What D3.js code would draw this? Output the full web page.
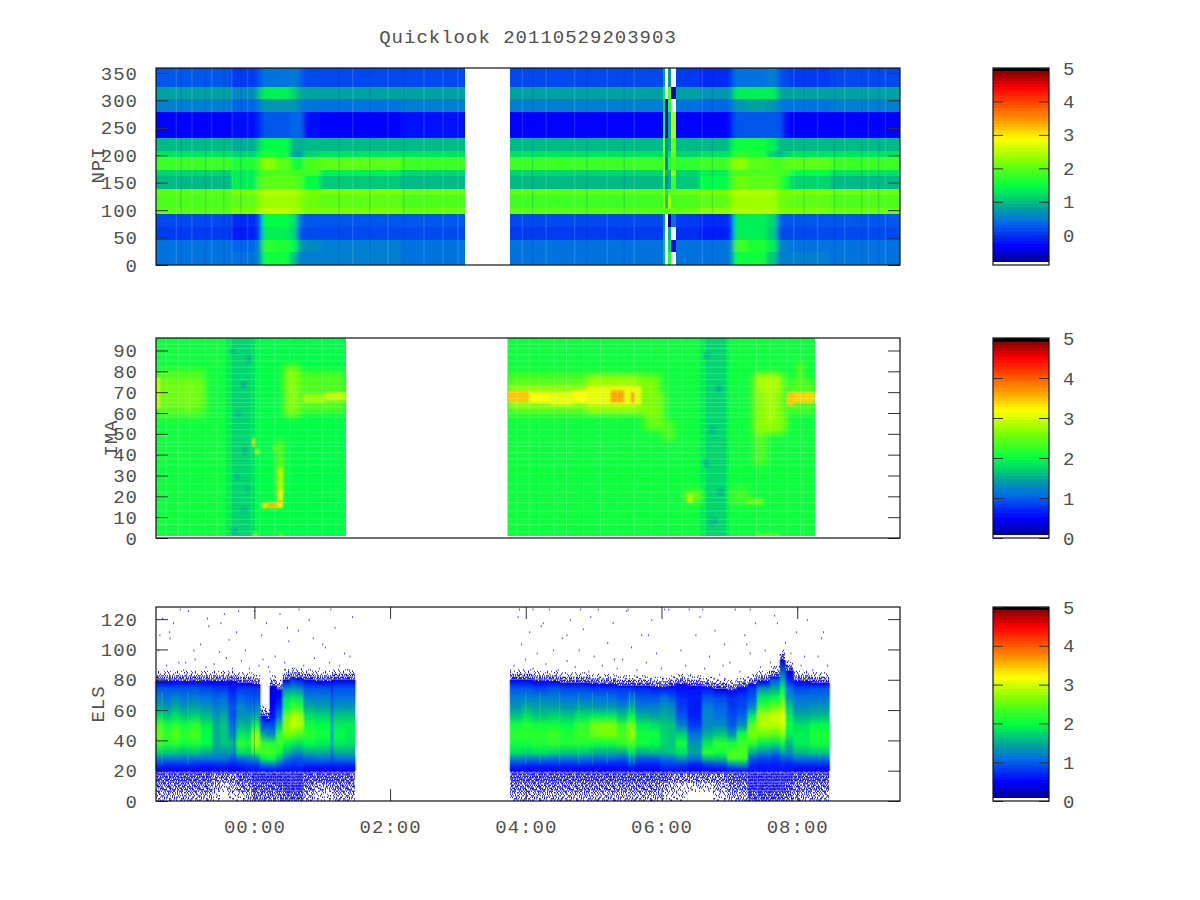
<!DOCTYPE html>
<html>
<head>
<meta charset="utf-8">
<title>Quicklook 20110529203903</title>
<script src="https://cdnjs.cloudflare.com/ajax/libs/d3/7.8.5/d3.min.js"></script>
<style>
  html, body { margin: 0; padding: 0; background: #fff; }
  svg { display: block; }
  text { font-family: "Liberation Mono", monospace; font-size: 19px; letter-spacing: 1px; fill: #505050; }
  .axis text { font-family: "Liberation Mono", monospace; font-size: 19px; letter-spacing: 1px; fill: #505050; }
  .axis path { display: none; }
  .axis line { stroke: #333; }
</style>
</head>
<body>
<div id="chart"></div>
<script>
// all values below (hours from 00:00, log10 counts)
const title = 'Quicklook 20110529203903';
const timeTicks = [0, 2, 4, 6, 8];
const timeLabels = ['00:00', '02:00', '04:00', '06:00', '08:00'];
const npiTicks = [0, 50, 100, 150, 200, 250, 300, 350];
const imaTicks = [0, 10, 20, 30, 40, 50, 60, 70, 80, 90];
const elsTicks = [0, 20, 40, 60, 80, 100, 120];
const barTicks = [0, 1, 2, 3, 4, 5];

// colour bar
const cmapStops = [0.016, 0.1, 0.22, 0.30, 0.40, 0.53, 0.64, 0.75, 0.90, 0.984];
const cmapColors = ['#000096', '#0000ff', '#006ee6', '#00aa96', '#00ff46', '#80ff00', '#ffff00', '#ff8c00', '#ff0000', '#8b0000'];

// NPI: column edges (hours), band edges (deg), one row of values per band
const npiEdges = [-1.45, -0.33, 0.04, 0.11, 0.30, 0.52, 0.63, 0.72, 0.97, 2.15, 3.10, 3.77, 5.09, 6.02, 6.05, 6.10, 6.14, 6.21, 6.57, 7.01, 7.07, 7.26, 7.55, 7.70, 7.78, 7.89, 8.48, 9.52];
const npiBands = [359, 325, 302, 278, 232, 208, 197, 174, 162, 139, 127, 104, 93, 70, 46, 23, 0];
const n = null;
const npiValues = [
  [.22, .04, .25, .42, .48, .58, .38, .17, .14, .2, n, .2, .18, .8, n, .7, n, .12, 0, .17, .4, .44, .52, .3, .17, .07, .14],
  [.82, .62, 1.05, 1.38, 1.38, 1.22, .9, .8, .8, .82, n, .82, .85, 1.4, n, 2, -.7, .78, .68, .95, 1.32, 1.38, 1.32, .9, .82, .78, .82],
  [.5, .34, .58, .76, .76, .74, .58, .45, .45, .5, n, .5, .5, 1.2, -.7, 1.6, n, .44, .36, .55, .76, .78, .74, .54, .48, .44, .5],
  [-.27, -.2, 0, .22, .25, .32, .38, -.2, -.27, -.22, n, -.27, -.27, 1.6, -.6, .9, 2.5, -.3, -.3, 0, .22, .25, .3, .3, -.2, -.27, -.27],
  [.98, .92, 1.28, 1.48, 1.48, .98, .92, .96, .98, .98, n, .98, .98, 2.2, .7, .9, 2.1, .96, 1, 1.32, 1.52, 1.52, 1.32, 1, .96, 1, .98],
  [1.3, 1.15, 1.48, 1.62, 1.58, .8, .75, 1.2, 1.3, 1.3, n, 1.3, 1.26, 2.2, .7, 1.3, 2.1, 1.2, 1.3, 1.58, 1.72, 1.62, 1.2, .85, 1.2, 1.3, 1.3],
  [1.82, 1.6, 1.95, 2.3, 2.05, 1.65, 1.5, 1.95, 2, 1.85, n, 1.82, 1.82, 2.4, .5, 1.6, 1.9, 1.75, 1.85, 2.15, 2.3, 2.05, 1.9, 1.85, 2, 2, 1.85],
  [1.2, 1.35, 1.75, 1.95, 1.9, 1.8, 1.85, 1.85, 1.4, 1.22, n, 1.2, 1.2, 2.6, .9, 1, 2.4, 1.22, 1.35, 1.85, 1.95, 1.9, 1.9, 1.85, 1.8, 1.48, 1.26],
  [1.02, 1.38, 1.95, 2.05, 2.05, 2, 1.95, 1.42, 1.1, 1.02, n, 1, 1, 1.8, .6, .9, 1.8, 1.1, 1.42, 1.95, 2.1, 2.05, 2, 1.85, 1.52, 1.2, 1.02],
  [2.05, 2.15, 2.4, 2.5, 2.5, 2.45, 2.35, 2.2, 2.15, 2.1, n, 2, 2, 2.5, 1.4, 2, 2, 2.1, 2.2, 2.4, 2.5, 2.5, 2.45, 2.2, 2.2, 2.15, 2.1],
  [1.88, 1.98, 2.25, 2.38, 2.42, 2.38, 2.3, 2.1, 2.02, 1.92, n, 1.85, 1.85, 2.5, 1.2, 2.5, 1.8, 1.92, 2.05, 2.32, 2.42, 2.42, 2.38, 2.08, 2.12, 2.05, 1.92],
  [2.05, 2.2, 2.45, 2.52, 2.52, 2.48, 2.4, 2.22, 2.18, 2.1, n, 2, 2.05, 2.1, 1.8, 2.1, 2.1, 2.12, 2.25, 2.45, 2.5, 2.5, 2.45, 2.22, 2.22, 2.18, 2.1],
  [.17, 0, .22, 1.42, 1.42, 1.3, .48, .25, .22, .22, n, .17, .14, .7, n, -.7, .4, .04, 0, .22, 1.38, 1.38, 1.2, .32, .22, .22, .22],
  [.07, -.1, .14, 1.38, 1.38, 1.2, .28, .14, .14, .14, n, .1, .06, .9, -.8, .9, n, -.04, -.08, .14, 1.34, 1.34, 1.1, .2, .14, .14, .14],
  [.48, .38, .72, 1.7, 1.6, 1.45, .82, .6, .52, .48, n, .46, .48, 1, -.8, 1.2, -.4, .4, .44, .72, 1.8, 1.6, 1.36, .64, .52, .48, .48],
  [.46, .4, .72, 1.52, 1.52, 1.05, .56, .56, .5, .46, n, .42, .46, 1, n, 1.6, n, .4, .44, .72, 1.58, 1.58, 1.1, .5, .5, .5, .46]
];
const npiSoftColumns = [1, 2, 3, 4, 5, 6, 7, 8, 18, 19, 20, 21, 22, 23, 24, 25];
const npiLightStreaks = [-1.15, -0.92, -0.63, -0.33, -0.1, 1.45, 1.97, 2.5, 2.78, 3.0, 3.95, 4.3, 4.72, 5.2, 5.6, 6.6, 7.95, 8.3, 8.7, 9.05, 9.3];
const npiDarkStreaks = [-1.08, -0.72, -0.45, -0.2, 1.25, 1.7, 2.2, 4.1, 4.9, 5.45, 6.75, 8.1, 8.55, 8.95, 9.2];

// IMA: one value per column across all energies, then local patches [t0, t1, e0, e1, value]
const imaEdges = [-1.45, -0.42, -0.33, -0.07, 0.01, 1.35, 3.73, 6.57, 6.65, 6.95, 7.0, 8.26];
const imaBase = [2.05, 1.88, 1.72, 1.82, 2.0, n, 2.1, 1.9, 1.72, 1.88, 2.1];
const imaPatches = [
  [-1.45, -0.72, 58, 81, 2.35], [-1.45, -0.72, 63, 76, 2.5], [-1.45, -1.39, 62, 77, 2.95], [-1.0, -0.95, 60, 75, 2.7],
  [0.42, 1.35, 60, 80, 2.35], [0.42, 0.67, 58, 83, 2.5], [0.52, 0.60, 62, 80, 2.75],
  [0.72, 1.05, 65, 69, 2.8], [1.05, 1.35, 66, 70, 2.95],
  [0.34, 0.42, 22, 47, 2.6], [0.34, 0.42, 22, 34, 2.85], [0.34, 0.42, 16, 23, 3.2], [0.36, 0.40, 15, 18, 4.0],
  [0.11, 0.42, 14.5, 17, 3.25], [0.18, 0.34, 15, 16.5, 3.6],
  [-0.03, 0.01, 44, 48, 3.4], [0.01, 0.07, 40.5, 42.5, 2.9], [0.27, 0.33, 42, 44, 2.6],
  [-0.03, 0.06, 1, 2, 2.8], [0.36, 0.42, 1, 2, 2.8],

  [3.73, 6.0, 59, 79, 2.4], [5.75, 6.05, 52, 70, 2.5], [6.0, 6.2, 47, 56, 2.4],
  [3.73, 5.6, 63, 73, 2.8], [3.73, 4.05, 65.5, 70.5, 3.45], [4.05, 4.35, 65, 70, 3.2], [4.35, 4.7, 64, 70, 3.1], [4.7, 5.0, 65, 71, 3.15],
  [4.9, 5.7, 60, 78, 2.8], [4.9, 5.7, 64, 73, 3.05], [5.25, 5.45, 65, 71, 3.6], [5.55, 5.6, 65, 70, 3.7],
  [5.65, 5.95, 59, 77, 2.6],
  [6.35, 6.6, 17, 23, 2.5], [6.38, 6.45, 17, 21, 2.9], [7.25, 7.5, 16, 19, 2.55], [7.0, 7.3, 16, 24, 2.3],
  [7.35, 7.8, 50, 79, 2.7], [7.4, 7.75, 71, 79, 2.84], [7.55, 7.65, 56, 75, 2.84], [7.35, 7.55, 35, 50, 2.4], [7.7, 7.85, 52, 60, 2.6],
  [7.85, 8.26, 60, 76, 2.35], [7.85, 8.26, 65, 70, 3.4], [7.85, 7.95, 63.5, 70, 3.5], [8.0, 8.08, 74, 85, 2.5], [7.4, 7.75, 1, 2, 2.6]
];
const imaMottle = [
  [-0.35, -0.28, 88, 91, 1.6], [-0.2, -0.12, 72, 75, 1.55], [-0.12, -0.05, 84, 88, 1.62], [-0.28, -0.2, 58, 61, 1.6], [-0.18, -0.1, 40, 44, 1.6],
  [-0.3, -0.22, 28, 31, 1.6], [-0.2, -0.1, 12, 15, 1.58], [-0.35, -0.25, 2, 5, 1.6], [-0.12, -0.06, 22, 25, 1.62],
  [6.62, 6.72, 86, 89, 1.6], [6.8, 6.88, 70, 73, 1.55], [6.7, 6.8, 50, 54, 1.6], [6.62, 6.7, 34, 38, 1.6], [6.82, 6.92, 20, 24, 1.6], [6.7, 6.82, 6, 10, 1.58]
];
const imaGridE = [3, 6.5, 9, 13, 17, 19.5, 22, 26, 31, 35, 38, 41, 44, 46, 49, 52, 55, 58, 60, 63, 65, 67, 70, 73, 76, 79, 82, 85, 88, 91, 93];
const imaGridT = [-1.3, -1.12, -0.95, -0.72, -0.55, 0.08, 0.3, 0.52, 0.78, 1.0, 1.2, 3.87, 4.05, 4.2, 4.42, 4.6, 4.85, 5.1, 5.35, 5.6, 5.85, 6.1, 6.3, 7.15, 7.4, 7.6, 7.85, 8.05];

// ELS: column start and end hours, energy levels, one profile per column
const elsStarts = [-1.45, -1.35, -1.22, -1.10, -0.95, -0.80, -0.62, -0.50, -0.39, -0.26, -0.14, -0.04, 0.08, 0.17, 0.23, 0.32, 0.42, 0.53, 0.61, 0.72, 0.89, 1.13, 1.16, 1.33,
  3.77, 3.95, 4.09, 4.33, 4.50, 4.72, 4.95, 5.15, 5.34, 5.50, 5.61, 5.83, 5.98, 6.10, 6.21, 6.38, 6.60, 6.76, 6.97, 7.11, 7.27, 7.41, 7.60, 7.75, 7.82, 7.94, 8.19];
const elsEnds = [-1.35, -1.22, -1.10, -0.95, -0.80, -0.62, -0.50, -0.39, -0.26, -0.14, -0.04, 0.08, 0.17, 0.23, 0.32, 0.42, 0.53, 0.61, 0.72, 0.89, 1.13, 1.16, 1.33, 1.48,
  3.95, 4.09, 4.33, 4.50, 4.72, 4.95, 5.15, 5.34, 5.50, 5.61, 5.83, 5.98, 6.10, 6.21, 6.38, 6.60, 6.76, 6.97, 7.11, 7.27, 7.41, 7.60, 7.75, 7.82, 7.94, 8.19, 8.47];
const elsLevels = [20, 24, 28, 32, 38, 44, 50, 56, 62, 68, 74, 80];
const elsProfiles = [
  [.5, .8, 1.2, 1.75, 2.3, 2.5, 2.35, 1.8, 1.45, 1.2, .95, .55],
  [.5, .75, 1.15, 1.65, 2.15, 2.25, 2.1, 1.7, 1.4, 1.15, .95, .55],
  [.5, .75, 1.2, 1.7, 2.25, 2.45, 2.25, 1.8, 1.5, 1.25, .95, .55],
  [.5, .75, 1.1, 1.6, 2.1, 2.2, 2.05, 1.7, 1.4, 1.15, .95, .55],
  [.5, .75, 1.15, 1.65, 2.15, 2.35, 2.2, 1.75, 1.45, 1.2, .95, .55],
  [.5, .7, 1.1, 1.55, 2, 2, 1.9, 1.6, 1.35, 1.15, .9, .55],
  [.5, .75, 1.1, 1.35, 1.5, 1.55, 1.5, 1.4, 1.2, 1.05, .85, .5],
  [.5, .75, 1.1, 1.4, 1.65, 1.7, 1.65, 1.5, 1.3, 1.1, .85, .5],
  [.45, .7, 1, 1.35, 1.6, 1.3, 1.1, 1, .95, .85, .7, .45],
  [.5, .75, 1.15, 1.8, 2.2, 1.9, 1.6, 1.4, 1.25, 1.05, .8, .45],
  [.55, .8, 1.2, 1.75, 2.1, 1.85, 1.55, 1.35, 1.15, 1, .8, .45],
  [.55, .85, 1.35, 2.2, 2.75, 2.7, 2.1, 1.5, 1.2, 1, .8, .45],
  [.55, 1.1, 1.9, 2.3, 2.2, 1.5, .9, .6, .4, .4, .4, .4],
  [.55, 1.15, 2, 2.35, 2.2, 1.3, 1, .5, .4, .4, .4, .4],
  [.55, 1.2, 2, 2.3, 2.15, 1.25, .9, .55, .5, .45, .4, .4],
  [.6, .95, 1.6, 2.05, 2.3, 2.2, 1.7, 1.1, .8, .6, .4, .4],
  [.6, .8, 1.1, 1.6, 2, 2.6, 2.7, 2.5, 2, 1.8, 1.3, .7],
  [.55, .75, 1, 1.4, 1.9, 2.5, 2.95, 2.9, 2.3, 1.9, 1.4, .8],
  [.6, .8, 1, 1.3, 1.8, 2.4, 2.85, 2.8, 2.2, 1.8, 1.3, .7],
  [.5, .75, 1.05, 1.5, 2, 2.2, 2.1, 1.85, 1.5, 1.2, .95, .6],
  [.5, .75, 1.1, 1.55, 1.95, 2.05, 2, 1.75, 1.45, 1.2, .95, .55],
  [.5, .6, .8, .9, 1, 1, 1, .95, .9, .8, .7, .5],
  [.5, .75, 1.1, 1.55, 1.9, 2, 1.95, 1.7, 1.4, 1.15, .95, .55],
  [.5, .75, 1.1, 1.5, 1.85, 1.95, 1.9, 1.65, 1.4, 1.15, .95, .55],

  [.5, .8, 1.25, 1.8, 2.1, 2.2, 2.05, 1.65, 1.4, 1.2, .95, .55],
  [.5, .75, 1.2, 1.75, 2.05, 2.25, 2.15, 1.85, 1.5, 1.2, .95, .5],
  [.5, .75, 1.2, 1.8, 2.15, 2.2, 2.05, 1.7, 1.45, 1.2, .9, .5],
  [.5, .75, 1.15, 1.75, 2.2, 2.3, 2.1, 1.75, 1.45, 1.2, .95, .5],
  [.5, .75, 1.1, 1.7, 2.15, 2.15, 2, 1.7, 1.4, 1.15, .9, .5],
  [.5, .75, 1.15, 1.65, 2.15, 2.3, 2.2, 1.85, 1.45, 1.15, .9, .45],
  [.5, .7, 1.05, 1.5, 2.1, 2.55, 2.6, 1.9, 1.4, 1.1, .85, .45],
  [.5, .7, 1.05, 1.5, 2.1, 2.6, 2.65, 1.9, 1.4, 1.1, .85, .45],
  [.5, .7, 1, 1.5, 2.2, 2.35, 2.2, 1.7, 1.3, 1, .8, .45],
  [.5, .85, 1.25, 1.8, 2.4, 2.75, 2.6, 2, 1.5, 1.1, .8, .45],
  [.5, .7, 1, 1.55, 2.05, 2.1, 1.95, 1.5, 1.2, .95, .75, .4],
  [.5, .7, 1, 1.6, 2, 2.05, 1.85, 1.45, 1.2, .95, .7, .4],
  [.55, .8, 1.15, 1.6, 1.75, 1.75, 1.7, 1.55, 1.35, 1.1, .7, .4],
  [.55, .8, 1.1, 1.65, 1.7, 1.7, 1.65, 1.45, 1.3, 1, .7, .4],
  [.55, .85, 1.4, 1.8, 2.05, 1.75, 1.2, 1, .85, .75, .6, .4],
  [.5, .7, 1.1, 1.45, 1.4, 1.1, .8, .7, .7, .65, .55, .4],
  [.5, .85, 1.6, 2.2, 1.9, 1.5, 1.3, 1.25, 1.2, 1, .7, .4],
  [.5, .9, 1.6, 2.1, 2.25, 1.7, 1.3, 1.15, 1.05, .9, .6, .4],
  [.55, 1.3, 2.3, 2.35, 2.05, 1.35, 1, .9, .85, .75, .55, .4],
  [.55, 1.35, 2.3, 2.35, 2.3, 2.1, 1.4, 1.05, .9, .8, .6, .4],
  [.55, .75, 1, 1.5, 2.25, 2.6, 2.45, 1.95, 1.3, 1, .8, .5],
  [.55, .7, .9, 1.25, 1.9, 2.5, 2.85, 2.85, 2.3, 1.9, 1.35, .75],
  [.6, .7, .85, 1.15, 1.8, 2.45, 2.85, 3, 2.5, 2, 1.5, 1],
  [.6, .75, 1, 1.55, 2.1, 2.7, 3, 3.1, 2.8, 2.4, 2, 1.5],
  [.55, .7, .95, 1.3, 1.6, 1.9, 2, 1.9, 1.7, 1.4, 1.1, .7],
  [.5, .75, 1.1, 1.6, 1.9, 1.95, 1.85, 1.5, 1.3, 1.15, .9, .55],
  [.5, .75, 1.15, 1.65, 2.05, 2.15, 2, 1.6, 1.35, 1.15, .95, .55]
];
// top energy of the solid part of each column
const elsTop = [79, 79, 79, 79, 79, 79, 79, 79, 79, 78, 78, 77, 56, 54, 76, 73, 80, 81, 81, 80, 79, 80, 80, 80,
  80, 80, 79, 79, 78, 78, 77, 77, 76, 76, 76, 75, 75, 76, 77, 76, 75, 74, 73, 75, 77, 79, 82, 93, 86, 79, 78];
// speckle density in the 0-6, 6-12, 12-18 strips of each column
const elsLow = [[2, 3, 4], [2, 3, 4], [2, 3, 4], [2, 3, 4], [2, 3, 4], [2, 3, 4], [1, 2, 3], [0, 1, 3], [1, 2, 3], [1, 3, 4], [2, 3, 4], [3, 4, 5], [3, 4, 5], [3, 4, 5], [3, 4, 5], [3, 4, 5], [4, 5, 5], [4, 5, 5], [4, 5, 5], [2, 3, 4], [1, 2, 4], [1, 2, 4], [2, 3, 4], [2, 3, 4],
  [2, 3, 4], [2, 3, 4], [2, 3, 4], [2, 3, 4], [2, 3, 4], [2, 3, 4], [2, 3, 4], [2, 3, 4], [2, 3, 4], [2, 3, 4], [2, 3, 4], [2, 3, 4], [1, 2, 4], [1, 2, 3], [1, 1, 3], [0, 1, 3], [0, 1, 3], [1, 2, 3], [2, 3, 4], [2, 3, 4], [4, 5, 5], [4, 5, 5], [4, 5, 5], [4, 5, 5], [3, 4, 5], [2, 3, 4], [2, 3, 4]];
const elsStrayT = [-1.42, -1.36, -1.3, -1.26, -1.2, -1.12, -1.05, -0.98, -0.88, -0.8, -0.72, -0.68, -0.6, -0.52, -0.45, -0.38, -0.33, -0.27, -0.2, -0.14, -0.08, 0, 0.06, 0.1, 0.17, 0.22, 0.3, 0.37, 0.44, 0.5, 0.57, 0.64, 0.72, 0.8, 0.88, 0.95, 1.04, 1.1, 1.18, 1.25, 1.32, 1.39, 1.44, -1.25, -1.02, -0.7, -0.42, -0.24, 0.12, 0.48, 0.86, 1.12, 1.4, -1.4, -1.1, -0.9, -0.5, 0.2, 0.65, 1.0,
  3.82, 3.88, 3.93, 3.99, 4.05, 4.1, 4.16, 4.22, 4.29, 4.34, 4.4, 4.47, 4.53, 4.6, 4.65, 4.72, 4.78, 4.84, 4.92, 5, 5.06, 5.12, 5.2, 5.28, 5.34, 5.42, 5.48, 5.55, 5.63, 5.7, 5.77, 5.85, 5.92, 5.99, 6.04, 6.28, 6.35, 6.42, 6.5, 6.56, 6.63, 6.7, 6.78, 6.85, 6.92, 7, 7.08, 7.15, 7.22, 7.3, 7.38, 7.45, 7.52, 7.6, 7.66, 7.74, 7.82, 7.9, 7.98, 8.05, 8.14, 8.22, 8.3, 8.38, 8.44, 3.9, 4.25, 4.6, 4.95, 5.3, 5.8, 6.4, 6.9, 7.25, 7.7, 8.1, 8.35, 4.1, 4.8, 5.5, 6.1, 6.6, 7.3, 8.0];
const elsStrayE = [100, 121, 90, 112, 118, 92, 87, 126, 94, 104, 89, 116, 91, 99, 124, 107, 88, 112, 93, 100, 88, 126, 90, 110, 118, 86, 96, 124, 92, 106, 87, 113, 90, 120, 95, 88, 102, 92, 115, 90, 98, 87, 122, 108, 92, 121, 95, 126, 94, 115, 108, 127, 96, 110, 127, 100, 118, 89, 127, 104,
  90, 122, 104, 94, 112, 88, 98, 116, 91, 127, 100, 87, 108, 93, 120, 89, 100, 114, 86, 96, 127, 90, 105, 118, 88, 94, 126, 102, 87, 110, 92, 120, 98, 88, 127, 100, 90, 84, 110, 122, 88, 96, 113, 84, 104, 92, 127, 86, 110, 98, 118, 89, 100, 92, 123, 97, 105, 98, 112, 90, 120, 87, 96, 112, 90, 127, 118, 110, 122, 94, 110, 127, 90, 104, 118, 96, 108, 127, 127, 127, 127, 127, 127, 127, 127];
const elsStreaks = [-1.36, -0.98, 4.0, 4.21, 4.5, 4.78, 4.98, 5.2, 5.53, 5.6];
const elsDarkStreaks = [1.14, 0.0, -0.3];
// Texture only: the dense speckle in the low strips and the fringe is not read point by point.
// a pixel is on when its digit is below the strip's threshold.
const speckleTile = [
  '3815926047139582604716392850417362951',
  '7042681935720469183520746193628059374',
  '1596304872658130947265081739452608193',
  '8263749015493827160394572816039147526',
  '0471852396016745293861047925386471028',
  '5928013674382910567481236059174830962',
  '3160497285964073812695730481962507134',
  '9745126830251689407312958674013296785',
  '2086371954708342961508246139785041627',
  '6531840729136057248973016582494738106',
  '4902765183849271506316498720351692048',
  '1378296405062938174650723841960517392',
  '7614058392517406839221586093472068151',
  '2859403167384152960784130675928341706',
  '0347916528790613425967482013605792483',
  '9162570834126489037155039426817450269'
];
const speckleLevels = [0, 2, 4, 6, 8, 10];

// layout
const W = 1200, H = 900;
const panelX = [156, 900], barX = [993, 1049];
const panelY = { npi: [265, 68], ima: [538, 338], els: [801, 607] };

const x = d3.scaleLinear().domain([-1.45, 9.515]).range(panelX);
const yNpi = d3.scaleLinear().domain([0, 359]).range(panelY.npi);
const yIma = d3.scaleLinear().domain([0, 96]).range(panelY.ima);
const yEls = d3.scaleLinear().domain([0, 128]).range(panelY.els);

const cmap = d3.scaleLinear().domain(cmapStops).range(cmapColors).clamp(true);
const palette = d3.range(64).map(i => i == 0 ? '#fff' : i == 63 ? '#000' : cmap((i + 0.5) / 64));
function colorFor(domain) {
  return d3.scaleQuantize().domain(domain).range(palette);
}
const colNpi = colorFor([-0.89, 5]);
const colIma = colorFor([0, 5]);
const colEls = colorFor([0, 5]);

const svg = d3.select('#chart').append('svg').attr('width', W).attr('height', H);
const defs = svg.append('defs');

svg.append('text').attr('x', 528).attr('y', 43).attr('text-anchor', 'middle').text(title);

// speckle patterns
const tileCells = [];
speckleTile.forEach((row, r) => row.split('').forEach((c, k) => tileCells.push({ r, k, d: +c })));
speckleLevels.forEach((thr, level) => {
  const p = defs.append('pattern').attr('id', 'speck' + level)
    .attr('patternUnits', 'userSpaceOnUse')
    .attr('width', speckleTile[0].length).attr('height', speckleTile.length * 1.5);
  p.selectAll('rect').data(tileCells.filter(c => c.d < thr)).join('rect')
    .attr('x', c => c.k).attr('y', c => c.r * 1.5)
    .attr('width', 1).attr('height', 1.5)
    .attr('fill', c => c.d % 3 == 0 ? '#4a4af0' : '#1414e6');
});

// --- NPI ---
function npiCells(g, keep) {
  npiValues.forEach((row, b) => {
    g.append('g').selectAll('rect').data(row.map((v, c) => ({ v, c })).filter(d => d.v !== null && keep(d.c))).join('rect')
      .attr('x', d => x(npiEdges[d.c]))
      .attr('y', yNpi(npiBands[b]))
      .attr('width', d => x(npiEdges[d.c + 1]) - x(npiEdges[d.c]))
      .attr('height', yNpi(npiBands[b + 1]) - yNpi(npiBands[b]))
      .attr('fill', d => colNpi(d.v))
      .attr('shape-rendering', 'crispEdges');
  });
}
defs.append('filter').attr('id', 'smearNpi').attr('x', '-10%').attr('width', '120%')
  .append('feGaussianBlur').attr('stdDeviation', '2 0');
defs.append('filter').attr('id', 'smearEls').attr('x', '-5%').attr('width', '110%')
  .append('feGaussianBlur').attr('stdDeviation', '1.3 0');
const gNpi = svg.append('g');
npiCells(gNpi, () => true);
const softA = gNpi.append('g').attr('filter', 'url(#smearNpi)');
npiCells(softA, c => npiSoftColumns.includes(c) && c < 10);
const softB = gNpi.append('g').attr('filter', 'url(#smearNpi)');
npiCells(softB, c => npiSoftColumns.includes(c) && c > 10);
gNpi.append('g').selectAll('line').data(npiLightStreaks).join('line')
  .attr('x1', d => x(d)).attr('x2', d => x(d)).attr('y1', yNpi(359)).attr('y2', yNpi(0))
  .attr('stroke', '#fff').attr('stroke-opacity', 0.12).attr('stroke-width', 1.5);
gNpi.append('g').selectAll('line').data(npiDarkStreaks).join('line')
  .attr('x1', d => x(d)).attr('x2', d => x(d)).attr('y1', yNpi(359)).attr('y2', yNpi(0))
  .attr('stroke', '#0000c0').attr('stroke-opacity', 0.12).attr('stroke-width', 1.5);

// --- IMA ---
defs.append('clipPath').attr('id', 'imaClip').selectAll('rect')
  .data(imaBase.map((v, i) => ({ v, i })).filter(d => d.v !== null)).join('rect')
  .attr('x', d => x(imaEdges[d.i])).attr('width', d => x(imaEdges[d.i + 1]) - x(imaEdges[d.i]) + 0.5)
  .attr('y', yIma(96)).attr('height', yIma(1) - yIma(96));
defs.append('filter').attr('id', 'haze').attr('x', '-30%').attr('y', '-30%').attr('width', '160%').attr('height', '160%')
  .append('feGaussianBlur').attr('stdDeviation', 3.2);
defs.append('filter').attr('id', 'soft').attr('x', '-30%').attr('y', '-30%').attr('width', '160%').attr('height', '160%')
  .append('feGaussianBlur').attr('stdDeviation', 1.1);

const gIma = svg.append('g').attr('clip-path', 'url(#imaClip)');
gIma.append('g').selectAll('rect').data(imaBase.map((v, i) => ({ v, i })).filter(d => d.v !== null)).join('rect')
  .attr('x', d => x(imaEdges[d.i])).attr('width', d => x(imaEdges[d.i + 1]) - x(imaEdges[d.i]) + 0.5)
  .attr('y', yIma(96)).attr('height', yIma(1) - yIma(96))
  .attr('fill', d => colIma(d.v)).attr('shape-rendering', 'crispEdges');
function imaRects(g, data) {
  g.selectAll('rect').data(data).join('rect')
    .attr('x', d => x(d[0])).attr('width', d => x(d[1]) - x(d[0]))
    .attr('y', d => yIma(d[3])).attr('height', d => yIma(d[2]) - yIma(d[3]))
    .attr('fill', d => colIma(d[4]));
}
imaRects(gIma.append('g').attr('filter', 'url(#soft)'), imaMottle);
imaRects(gIma.append('g').attr('filter', 'url(#haze)'), imaPatches.filter(d => d[4] < 2.85 && d[3] - d[2] > 4));
imaRects(gIma.append('g').attr('filter', 'url(#soft)'), imaPatches.filter(d => !(d[4] < 2.85 && d[3] - d[2] > 4)));
gIma.append('g').selectAll('line').data(imaGridE).join('line')
  .attr('x1', panelX[0]).attr('x2', panelX[1]).attr('y1', d => yIma(d)).attr('y2', d => yIma(d))
  .attr('stroke', '#fff').attr('stroke-opacity', 0.2);
gIma.append('g').selectAll('line').data(imaGridT).join('line')
  .attr('x1', d => x(d)).attr('x2', d => x(d)).attr('y1', yIma(96)).attr('y2', yIma(1))
  .attr('stroke', '#fff').attr('stroke-opacity', 0.2);

// --- ELS ---
const gEls = svg.append('g');
const cols = elsProfiles.map((p, i) => ({ p, i, t0: elsStarts[i], t1: elsEnds[i], top: elsTop[i], low: elsLow[i] }));

// speckled strips under the solid part, the last 18-20 strip is always full
const lowEdges = [0, 6, 12, 18];
lowEdges.slice(0, 3).forEach((e0, s) => {
  gEls.append('g').selectAll('rect').data(cols).join('rect')
    .attr('x', d => x(d.t0)).attr('width', d => x(d.t1) - x(d.t0))
    .attr('y', yEls(lowEdges[s + 1])).attr('height', yEls(e0) - yEls(lowEdges[s + 1]))
    .attr('fill', d => 'url(#speck' + d.low[s] + ')');
});
gEls.append('g').selectAll('rect').data(cols).join('rect')
  .attr('x', d => x(d.t0)).attr('width', d => x(d.t1) - x(d.t0))
  .attr('y', yEls(20.5)).attr('height', yEls(18) - yEls(20.5))
  .attr('fill', 'url(#speck5)');
// and the ragged fringe over it
const fringeSteps = [[0, 2, 4], [2, 4, 3], [4, 7, 1]];
fringeSteps.forEach(f => {
  gEls.append('g').selectAll('rect').data(cols).join('rect')
    .attr('x', d => x(d.t0)).attr('width', d => x(d.t1) - x(d.t0))
    .attr('y', d => yEls(d.top + f[1])).attr('height', d => yEls(d.top + f[0]) - yEls(d.top + f[1]))
    .attr('fill', 'url(#speck' + f[2] + ')');
});
const grads = defs.selectAll('linearGradient').data(cols).join('linearGradient')
  .attr('id', d => 'els' + d.i)
  .attr('gradientUnits', 'userSpaceOnUse')
  .attr('x1', 0).attr('x2', 0)
  .attr('y1', yEls(20)).attr('y2', d => yEls(d.top));
grads.selectAll('stop').data(d => {
  const st = elsLevels.map((e, k) => ({ off: (e - 20) / (d.top - 20), v: d.p[k] })).filter(s => s.off < 1);
  st.push({ off: 1, v: 0.4 });
  return st;
}).join('stop')
  .attr('offset', s => s.off)
  .attr('stop-color', s => colEls(s.v));
function elsColumns(g, data) {
  g.selectAll('rect').data(data).join('rect')
    .attr('x', d => x(d.t0)).attr('width', d => x(d.t1) - x(d.t0) + 0.3)
    .attr('y', d => yEls(d.top)).attr('height', d => yEls(20) - yEls(d.top))
    .attr('fill', d => 'url(#els' + d.i + ')');
}
elsColumns(gEls.append('g'), cols);
elsColumns(gEls.append('g').attr('filter', 'url(#smearEls)'), cols.filter(d => d.t0 < 2));
elsColumns(gEls.append('g').attr('filter', 'url(#smearEls)'), cols.filter(d => d.t0 > 2));
gEls.append('g').selectAll('line').data(elsStreaks).join('line')
  .attr('x1', d => x(d)).attr('x2', d => x(d)).attr('y1', yEls(72)).attr('y2', yEls(24))
  .attr('stroke', '#40ff40').attr('stroke-opacity', 0.3);
gEls.append('g').selectAll('line').data(elsDarkStreaks).join('line')
  .attr('x1', d => x(d)).attr('x2', d => x(d)).attr('y1', yEls(74)).attr('y2', yEls(28))
  .attr('stroke', '#0030c0').attr('stroke-opacity', 0.35);
gEls.append('g').selectAll('rect').data(elsStrayT).join('rect')
  .attr('x', d => x(d)).attr('y', (d, i) => yEls(elsStrayE[i]))
  .attr('width', 1).attr('height', 2)
  .attr('fill', '#2a2ae8').attr('fill-opacity', 0.8);

// --- frames and axes ---
function frame(yScale, ticks, labelX, name, labelY, withTime) {
  const g = svg.append('g').attr('class', 'axis');
  g.append('g').attr('transform', `translate(${panelX[0]},0)`)
    .call(d3.axisLeft(yScale).tickValues(ticks).tickSize(-12).tickPadding(18));
  g.append('g').attr('transform', `translate(${panelX[1]},0)`)
    .call(d3.axisRight(yScale).tickValues(ticks).tickSize(-12).tickFormat(''));
  const [bottom, top] = yScale.range();
  if (withTime) {
    g.append('g').attr('transform', `translate(0,${bottom})`)
      .call(d3.axisBottom(x).tickValues(timeTicks).tickSize(-12).tickPadding(19)
        .tickFormat((d, i) => timeLabels[i]));
    g.append('g').attr('transform', `translate(0,${top})`)
      .call(d3.axisTop(x).tickValues(timeTicks).tickSize(-12).tickFormat(''));
  }
  g.append('rect').attr('x', panelX[0]).attr('y', top)
    .attr('width', panelX[1] - panelX[0]).attr('height', bottom - top)
    .attr('fill', 'none').attr('stroke', '#111').attr('stroke-width', 1.2);
  svg.append('text').attr('transform', `translate(${labelX},${labelY}) rotate(-90)`)
    .attr('text-anchor', 'middle').text(name);
}
frame(yNpi, npiTicks, 104, 'NPI', 165, false);
frame(yIma, imaTicks, 117, 'IMA', 438, false);
frame(yEls, elsTicks, 104, 'ELS', 704, true);

// --- colour bars ---
function colorBar(range, domain) {
  const g = svg.append('g').attr('class', 'axis');
  const yb = d3.scaleLinear().domain(domain).range(range);
  const step = (range[0] - range[1]) / 64;
  g.append('g').selectAll('rect').data(palette).join('rect')
    .attr('x', barX[0]).attr('width', barX[1] - barX[0])
    .attr('y', (c, i) => range[0] - (i + 1) * step).attr('height', step + 0.4)
    .attr('fill', c => c).attr('shape-rendering', 'crispEdges');
  const ticks = barTicks.filter(t => t >= domain[0]);
  g.append('g').attr('transform', `translate(${barX[1]},0)`)
    .call(d3.axisRight(yb).tickValues(ticks).tickSize(-10).tickPadding(14).tickFormat(d3.format('d')));
  g.append('g').attr('transform', `translate(${barX[0]},0)`)
    .call(d3.axisLeft(yb).tickValues(ticks).tickSize(-10).tickFormat(''));
  g.append('rect').attr('x', barX[0]).attr('y', range[1])
    .attr('width', barX[1] - barX[0]).attr('height', range[0] - range[1])
    .attr('fill', 'none').attr('stroke', '#111').attr('stroke-width', 1.2);
}
colorBar(panelY.npi, [-0.89, 5]);
colorBar(panelY.ima, [0, 5]);
colorBar(panelY.els, [0, 5]);
</script>
</body>
</html>
